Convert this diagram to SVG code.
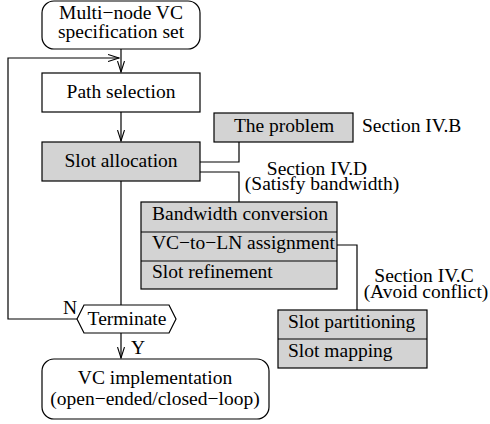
<svg xmlns="http://www.w3.org/2000/svg" width="490" height="424" viewBox="0 0 490 424">
<style>
text{font-family:"Liberation Serif","Times New Roman",serif;font-size:19.5px;fill:#000}
.c{text-anchor:middle}
.box{fill:#fff;stroke:#000;stroke-width:1.2}
.g{fill:#d3d3d3;stroke:#000;stroke-width:1.2}
.ln{fill:none;stroke:#000;stroke-width:1.2}
</style>
<defs>
<marker id="ah" markerUnits="userSpaceOnUse" markerWidth="12" markerHeight="8" refX="11" refY="4" orient="auto">
<path d="M0,0.5 L11,4 L0,7.5" fill="none" stroke="#000" stroke-width="1.1"/>
</marker>
</defs>
<rect width="490" height="424" fill="#fff"/>
<g id="connectors">
<line class="ln" x1="121" y1="49" x2="121" y2="72" marker-end="url(#ah)"/>
<polyline class="ln" points="77,319 8,319 8,58 119,58" marker-end="url(#ah)"/>
<line class="ln" x1="121" y1="112" x2="121" y2="141" marker-end="url(#ah)"/>
<polyline class="ln" points="200,162 239,162 239,142"/>
<polyline class="ln" points="200,172 239,172 239,202"/>
<polyline class="ln" points="337,245 357,245 357,310"/>
<line class="ln" x1="121" y1="181" x2="121" y2="305"/>
<line class="ln" x1="121" y1="333" x2="121" y2="358" marker-end="url(#ah)"/>
</g>
<g id="spec">
<rect class="box" x="42" y="1" width="158" height="48" rx="12"/>
<text class="c" x="121" y="19">Multi−node VC</text>
<text class="c" x="121" y="38">specification set</text>
</g>
<g id="path">
<rect class="box" x="42" y="73" width="158" height="39"/>
<text class="c" x="121" y="98">Path selection</text>
</g>
<g id="slot">
<rect class="g" x="42" y="142" width="158" height="39"/>
<text class="c" x="121" y="167">Slot allocation</text>
</g>
<g id="problem">
<rect class="g" x="214" y="113" width="139" height="29"/>
<text class="c" x="284" y="132">The problem</text>
<text x="362" y="132">Section IV.B</text>
</g>
<g id="bandwidth">
<text class="c" x="317" y="175">Section IV.D</text>
<text class="c" x="322" y="190">(Satisfy bandwidth)</text>
<rect class="g" x="141" y="202" width="196" height="87"/>
<line class="ln" x1="141" y1="232" x2="337" y2="232"/>
<line class="ln" x1="141" y1="261" x2="337" y2="261"/>
<text x="152" y="220">Bandwidth conversion</text>
<text x="152" y="249">VC−to−LN assignment</text>
<text x="152" y="278">Slot refinement</text>
</g>
<g id="conflict">
<text class="c" x="424" y="282">Section IV.C</text>
<text class="c" x="426" y="298">(Avoid conflict)</text>
<rect class="g" x="278" y="310" width="149" height="58"/>
<line class="ln" x1="278" y1="339" x2="427" y2="339"/>
<text x="288" y="328">Slot partitioning</text>
<text x="288" y="357">Slot mapping</text>
</g>
<g id="terminate">
<polygon class="box" points="77,319 84,305 169,305 176,319 169,333 84,333"/>
<text class="c" x="127" y="325">Terminate</text>
<text x="63" y="314">N</text>
<text x="131" y="354">Y</text>
</g>
<g id="impl">
<rect class="box" x="42" y="359" width="227" height="60" rx="12"/>
<text class="c" x="155" y="384">VC implementation</text>
<text class="c" x="155" y="405">(open−ended/closed−loop)</text>
</g>
</svg>
